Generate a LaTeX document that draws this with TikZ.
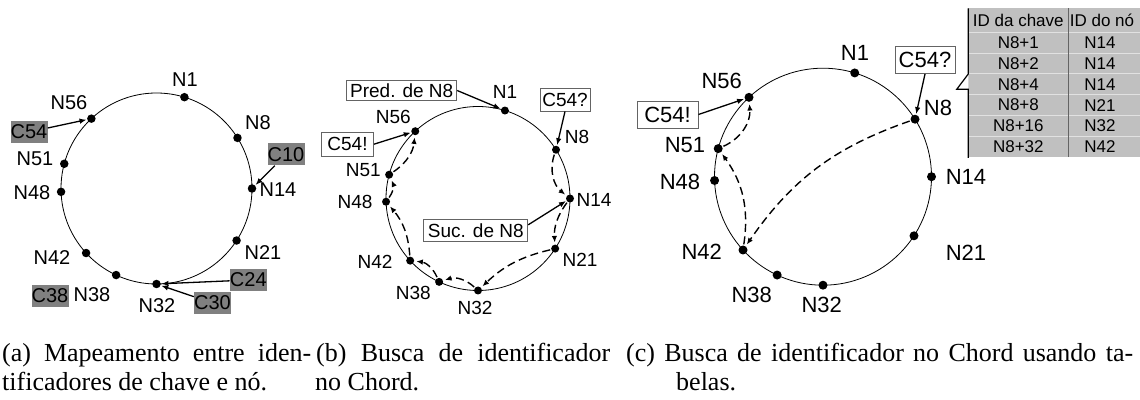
\documentclass[tikz,border=0pt]{standalone}
\usepackage{fontspec}
\setmainfont{Liberation Serif}
\setsansfont{Liberation Sans}
\usetikzlibrary{arrows.meta,calc}
\definecolor{keygray}{RGB}{128,128,128}
\definecolor{tabfill}{RGB}{192,192,192}
\definecolor{tabgrid}{RGB}{225,225,225}
\definecolor{framegray}{RGB}{100,100,100}
\newcommand{\fsA}{\sffamily\fontsize{20}{22}\selectfont}
\newcommand{\fsB}{\sffamily\fontsize{19}{21}\selectfont}
\newcommand{\fsC}{\sffamily\fontsize{22}{24}\selectfont}
\newcommand{\fsT}{\sffamily\fontsize{17}{19}\selectfont}
\newcommand{\fsCap}{\rmfamily\fontsize{26}{30}\selectfont}
\begin{document}
\begin{tikzpicture}[x=1pt,y=1pt,
  ring/.style={line width=0.8pt},
  dot/.style={circle,fill=black,inner sep=0pt,minimum size=#1},
  lbl/.style={inner sep=0pt},
  keybox/.style={fill=keygray,inner sep=0pt,minimum width=37pt,minimum height=22pt,font=\fsA},
  callbox/.style={draw=framegray,line width=0.9pt,fill=white,inner sep=0pt,minimum height=#1},
  solidarr/.style={line width=1.3pt,-{Latex[length=7pt,width=5.5pt]},shorten >=0.5pt},
  dasharr/.style={line width=1.4pt,dash pattern=on 8pt off 4.5pt,-{Latex[length=6.5pt,width=5.5pt]},shorten <=1pt,shorten >=2pt},
  capline/.style={inner sep=0pt,anchor=base west,font=\fsCap}
]
\useasboundingbox (0,0) rectangle (1140,399);

% ---------- (a) key-to-node mapping ----------
\coordinate (A) at (156.5,210.5);
\draw[ring] (A) circle[radius=95.5];
\foreach \n/\a in {1/73,8/32,14/0,21/-33,32/-90,38/-115,42/-137.5,48/182,51/165,56/133}
  \node[dot=8.5pt] (a\n) at ($(A)+(\a:95.5)$) {};
\begin{scope}[every node/.style={lbl,font=\fsA}]
  \node (la1)  at (185,319) {N1};
  \node (la56) at (69,296)  {N56};
  \node (la8)  at (258,276) {N8};
  \node (la51) at (35,240)  {N51};
  \node (la14) at (278,209) {N14};
  \node (la48) at (32,206)  {N48};
  \node (la21) at (263,146) {N21};
  \node (la42) at (52,141)  {N42};
  \node (la38) at (92,104)  {N38};
  \node (la32) at (157,93)  {N32};
\end{scope}
\node[keybox] (k54) at (29,267)    {C54};
\node[keybox] (k10) at (286,244.5) {C10};
\node[keybox] (k38) at (50,103)    {C38};
\node[keybox] (k24) at (248.3,119) {C24};
\node[keybox] (k30) at (212.5,96)  {C30};
\draw[solidarr] (k54) -- (a56);
\draw[solidarr] (k10) -- (a14);
\draw[solidarr] (k24) -- (a32);
\draw[solidarr] (k30) -- (a32);

% ---------- (b) lookup along successors ----------
\coordinate (B) at (478,200.5);
\draw[ring] (B) circle[radius=92];
\foreach \n/\a in {1/73,8/32,14/0,21/-33,32/-90,38/-115,42/-137.5,48/182,51/165,56/133}
  \node[dot=8pt] (b\n) at ($(B)+(\a:92)$) {};
\begin{scope}[every node/.style={lbl,font=\fsB}]
  \node (lb1)  at (505,307.3)   {N1};
  \node (lb56) at (393.3,282.3) {N56};
  \node (lb8)  at (577,262.3)   {N8};
  \node (lb51) at (363.3,229)   {N51};
  \node (lb14) at (594,199)     {N14};
  \node (lb48) at (355,197.3)   {N48};
  \node (lb21) at (580,139)     {N21};
  \node (lb42) at (375,137.3)   {N42};
  \node (lb38) at (413.3,105.7) {N38};
  \node (lb32) at (475,90.7)    {N32};
\end{scope}
\node[callbox=20pt,minimum width=110pt,font=\fsB] (predb) at (401.7,308.5) {Pred. de N8};
\node[callbox=23pt,minimum width=50pt,font=\fsB]  (c54qb) at (565,299.5)   {C54?};
\node[callbox=24pt,minimum width=52pt,font=\fsB]  (c54xb) at (347.5,254.8) {C54!};
\node[callbox=22pt,minimum width=104pt,font=\fsB] (sucb)  at (475.8,168.2) {Suc. de N8};
\draw[solidarr] (predb.east) -- (b1);
\draw[solidarr] (c54qb.south) -- (b8);
\draw[solidarr] (c54xb.east) -- (b56);
\draw[solidarr] ($(sucb.east)+(0,6)$) -- (b14);
\draw[dasharr] (b8)  to[bend right=35] (b14);
\draw[dasharr] (b14) to[bend right=20] (b21);
\draw[dasharr] (b21) to[bend right=15] (b32);
\draw[dasharr] (b32) to[bend right=30] (b38);
\draw[dasharr] (b38) to[bend right=30] (b42);
\draw[dasharr] (b42) to[bend right=18] (b48);
\draw[dasharr] (b48) to[bend right=30] (b51);
\draw[dasharr] (b51) to[bend right=25] (b56);

% ---------- (c) lookup with finger tables ----------
\coordinate (C) at (823,222.3);
\draw[ring] (C) circle[radius=108.5];
\foreach \n/\a in {1/73,8/32,14/0,21/-33,32/-90,38/-115,42/-137.5,48/182,51/165,56/133}
  \node[dot=9pt] (c\n) at ($(C)+(\a:108.5)$) {};
\begin{scope}[every node/.style={lbl,font=\fsC}]
  \node (lc1)  at (855,346.3)   {N1};
  \node (lc56) at (721.7,318)   {N56};
  \node (lc8)  at (938,291.3)   {N8};
  \node (lc51) at (685,254)     {N51};
  \node (lc14) at (966,222)     {N14};
  \node (lc48) at (680,217.3)   {N48};
  \node (lc21) at (966,146)     {N21};
  \node (lc42) at (701.7,147.3) {N42};
  \node (lc38) at (751.7,104)   {N38};
  \node (lc32) at (821.7,94)    {N32};
\end{scope}
\node[callbox=27pt,minimum width=61pt,font=\fsC] (c54xc) at (667.5,284.5) {C54!};
\node[callbox=27pt,minimum width=60pt,font=\fsC] (c54qc) at (925,339)     {C54?};
\draw[solidarr] (c54xc.east) -- (c56);
\draw[solidarr] (c54qc.south) -- (c8);
\draw[dasharr] (c8)  to[bend right=18] (c42);
\draw[dasharr] (c42) to[bend right=22] (c51);
\draw[dasharr] (c51) to[bend right=35] (c56);

% finger table of N8
\fill[tabfill] (968.3,241.9) rectangle (1140,390.7);
\foreach \k in {0,...,5}
  \draw[tabgrid,line width=1pt] (968.3,{366.7-20.8*\k}) -- (1140,{366.7-20.8*\k});
\draw[framegray,line width=1pt] (1068.3,241.9) -- (1068.3,390.7);
\fill[white] (968.3,325) -- (956.7,309.7) -- (968.3,309.7) -- cycle;
\draw[line width=1.2pt,line join=miter]
  (968.3,390.7) -- (968.3,325) -- (956.7,309.7) -- (968.3,309.7) -- (968.3,241);
\begin{scope}[every node/.style={lbl,font=\fsT}]
  \node (th1) at (1018.3,378.7) {ID da chave};
  \node (th2) at (1102,378.7)   {ID do nó};
  \foreach \k/\key/\succ in {0/1/14,1/2/14,2/4/14,3/8/21,4/16/32,5/32/42}{
    \node (tk\k) at (1018.3,{356.3-20.8*\k}) {N8+\key};
    \node (ts\k) at (1100,{356.3-20.8*\k})   {N\succ};
  }
\end{scope}

% ---------- sub-captions ----------
\node[capline] (capa1) at (2,38)   {\makebox[309pt][s]{(a) Mapeamento entre iden-}};
\node[capline] (capa2) at (2,9)    {tificadores de chave e nó.};
\node[capline] (capb1) at (316,38) {\makebox[294pt][s]{(b) Busca de identificador}};
\node[capline] (capb2) at (315,9)  {no Chord.};
\node[capline] (capc1) at (626,38) {\makebox[507pt][s]{(c) Busca de identificador no Chord usando ta-}};
\node[capline] (capc2) at (676,9)  {belas.};
\end{tikzpicture}
\end{document}
